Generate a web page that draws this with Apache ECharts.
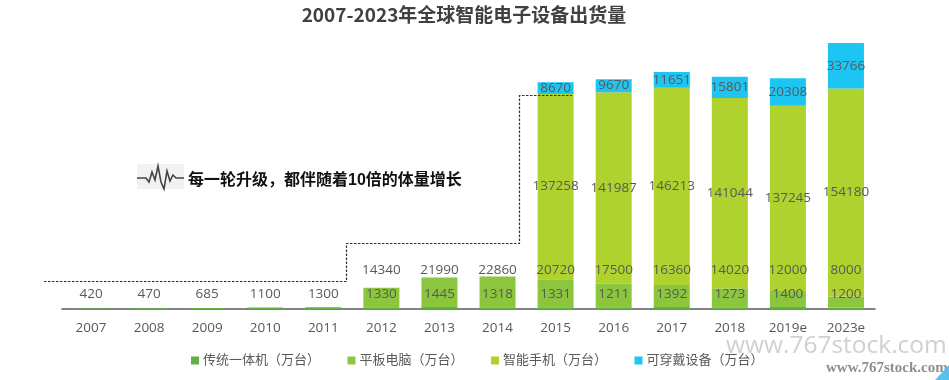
<!DOCTYPE html>
<html><head><meta charset="utf-8">
<style>html,body{margin:0;padding:0;background:#fff}#c{width:949px;height:380px}</style>
<script src="https://cdn.jsdelivr.net/npm/echarts@6/dist/echarts.min.js"></script>
</head><body><div id="c"></div>
<script>
const categories = ['2007','2008','2009','2010','2011','2012','2013','2014','2015','2016','2017','2018','2019e','2023e'];
const pc = [420,470,685,1100,1300,1330,1445,1318,1331,1211,1392,1273,1400,1200];
const tablet = [null,null,null,null,null,14340,21990,22860,20720,17500,16360,14020,12000,8000];
const phone = [null,null,null,null,null,null,null,null,137258,141987,146213,141044,137245,154180];
const wearable = [null,null,null,null,null,null,null,null,8670,9670,11651,15801,20308,33766];
const names = ['传统一体机（万台）','平板电脑（万台）','智能手机（万台）','可穿戴设备（万台）'];
const titleText = '2007-2023年全球智能电子设备出货量';
const noteText = '每一轮升级，都伴随着10倍的体量增长';
const colors = ['#62b046','#8cc63e','#b0d22f','#1dc5f3'];
const FF = '"Open Sans","Noto Sans CJK SC",sans-serif';
const lab = {show:true,color:'#595959',fontSize:13.5,fontFamily:FF};
const chart = echarts.init(document.getElementById('c'),null,{renderer:'canvas'});
function s(i,data,label){return {name:names[i],type:'bar',stack:'t',barWidth:36,data,itemStyle:{color:colors[i]},label:Object.assign({},lab,label)};}
chart.setOption({
  animation:false,
  color:colors,
  title:{text:titleText,left:459,top:0,textAlign:'center',textStyle:{fontSize:19,fontWeight:'bold',color:'#404040',fontFamily:'"Noto Sans CJK SC",sans-serif'}},
  legend:{left:186,top:349,itemWidth:8,itemHeight:8,itemGap:27.5,icon:'rect',selectedMode:false,
    textStyle:{color:'#595959',fontSize:13,padding:[0,0,0,-1],fontFamily:FF}},
  grid:{left:62,right:74,top:43,bottom:71},
  xAxis:{type:'category',data:categories,axisTick:{show:false},
    axisLine:{lineStyle:{color:'#595959',width:1.5}},
    axisLabel:{color:'#595959',fontSize:13.5,margin:12,fontFamily:FF,interval:0}},
  yAxis:{type:'value',min:0,max:197146,show:false,splitLine:{show:false}},
  series:[
    s(0,pc,{position:'insideBottom',distance:0,offset:[0,-8]}),
    s(1,tablet,{position:'insideBottom',distance:0,offset:[0,-30]}),
    s(2,phone,{position:'inside'}),
    s(3,wearable,{position:'inside'})
  ],
  graphic:[
    {type:'polyline',z:50,shape:{points:[[44,281.5],[346.5,281.5],[346.5,243.5],[519.5,243.5],[519.5,95.5],[572,95.5]]},
     style:{fill:null,stroke:'#333',lineWidth:1.2,lineDash:[2.5,1.5]}},
    {type:'rect',z:40,shape:{x:137,y:164,width:47,height:25},style:{fill:'#f2f2f2'}},
    {type:'polyline',z:41,shape:{points:[[137,178],[146,178],[149,182],[152,172],[155,180],[158,166],[161,182],[164,189],[167,171],[170,181],[173,175],[176,178],[184,178]]},
     style:{fill:null,stroke:'#444',lineWidth:1.6}},
    {type:'text',z:50,left:188,top:173,style:{text:noteText,fontSize:16,fontWeight:'bold',fill:'#111',fontFamily:'"Liberation Sans","Noto Sans CJK SC",sans-serif'}},
    {type:'text',z:60,left:726,top:334,style:{text:'www.767stock.com',fontSize:24.5,fill:'rgba(170,170,170,0.55)',fontFamily:'"Open Sans",sans-serif',letterSpacing:1}},
    {type:'text',z:60,left:826,top:361,style:{text:'www.767stock.com',fontSize:15,fontWeight:'bold',fill:'#8f8f8f',fontFamily:'"Liberation Serif",serif'}},
    {type:'polygon',z:60,shape:{points:[[949,365],[949,380],[935,380]]},style:{fill:'#5cc0ec'}}
  ]
});
</script></body></html>
